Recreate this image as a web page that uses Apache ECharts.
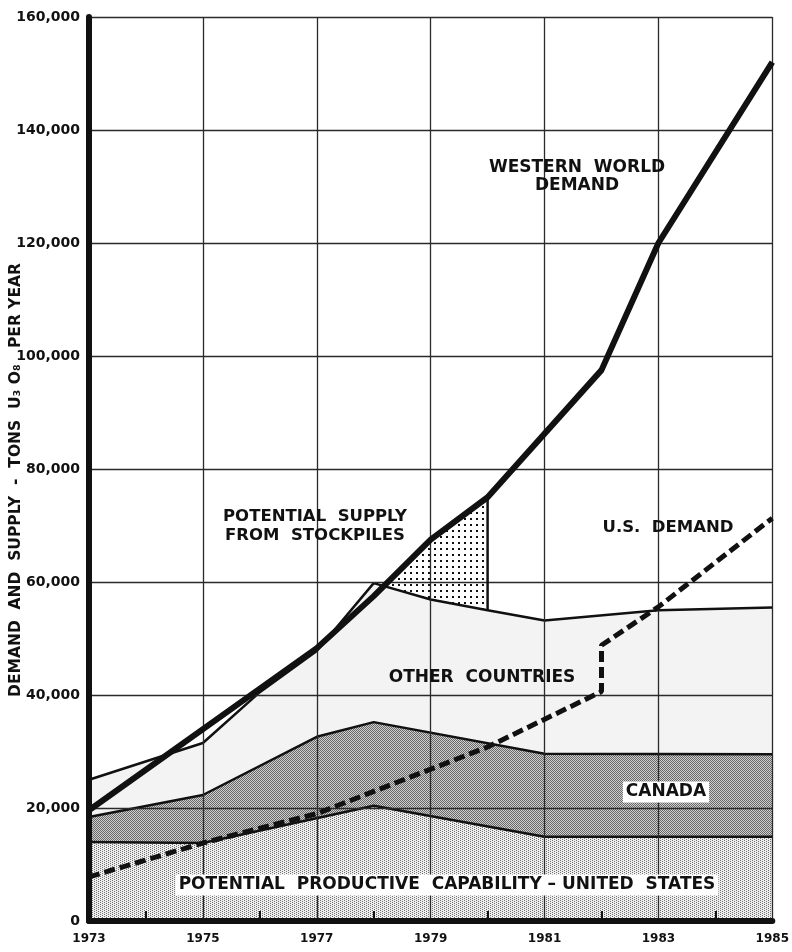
<!DOCTYPE html>
<html><head><meta charset="utf-8">
<script src="https://cdn.jsdelivr.net/npm/echarts@6/dist/echarts.min.js"></script>
<style>html,body{margin:0;padding:0;background:#fff}#c{width:792px;height:952px}</style>
</head><body><div id="c"></div>
<script>
// ---- data (years, tons U3O8 per year) ----
const BASE_YEAR = 1973;
const yTickValues = [0, 20000, 40000, 60000, 80000, 100000, 120000, 140000, 160000];
const usCapYears = [1973, 1975, 1978, 1981, 1985];
const usCapValues = [14000, 13800, 20400, 14900, 14900];
const canadaTopYears = [1973, 1975, 1977, 1978, 1981, 1985];
const canadaTopValues = [18400, 22300, 32600, 35200, 29600, 29500];
const otherTopYears = [1973, 1975, 1976, 1977, 1978, 1979, 1980, 1981, 1983, 1985];
const otherTopValues = [25000, 31500, 40500, 47800, 59800, 56900, 55000, 53200, 55000, 55500];
const worldDemandYears = [1973, 1977, 1978, 1979, 1980, 1982, 1983, 1985];
const worldDemandValues = [19600, 48300, 57500, 67500, 75000, 97500, 120000, 152000];
const usDemandYears = [1973, 1975, 1977, 1980, 1982, 1982, 1983, 1985];
const usDemandValues = [7800, 13800, 19000, 30800, 40600, 48800, 55600, 71300];
const stockpileYears = [1978, 1979, 1980];
const stockpileValues = [57500, 67500, 75000];
const stockpileEdgeYears = [1980, 1980];
const stockpileEdgeValues = [55000, 75000];

function pts(years, vals) { return years.map((y, i) => [y - BASE_YEAR, vals[i]]); }

function pattern(size, bg, dots, dotColor) {
  const c = document.createElement('canvas');
  c.width = size; c.height = size;
  const g = c.getContext('2d');
  g.fillStyle = bg; g.fillRect(0, 0, size, size);
  g.fillStyle = dotColor;
  dots.forEach(d => g.fillRect(d[0], d[1], d[2], d[3]));
  return { image: c, repeat: 'repeat' };
}
const usFill = pattern(4, '#eeeeee', [[0,0,1,1],[2,1,1,1],[0,2,1,1],[2,3,1,1]], '#707070');
const canFill = pattern(2, '#cfcfcf', [[0,0,1,1],[1,1,1,1]], '#686868');
const stockFill = pattern(6, '#ffffff', [[2,2,2,2]], '#111');

const FONT = 'DejaVu Sans';
const chart = echarts.init(document.getElementById('c'), null, { renderer: 'canvas' });
const gridStyle = { color: '#2a2a2a', width: 1.3 };

const option = {
  animation: false,
  backgroundColor: '#fff',
  grid: { left: 89, right: 19, top: 17, bottom: 31, containLabel: false },
  xAxis: {
    type: 'value', min: 0, max: 12, interval: 2, z: 5,
    axisLine: { show: true, onZero: false, lineStyle: { color: '#111', width: 6 } },
    axisTick: { show: false, inside: true },
    minorTick: { show: true, splitNumber: 2, length: 10, lineStyle: { color: '#111', width: 2 } },
    splitLine: { show: true, lineStyle: gridStyle },
    axisLabel: { formatter: v => String(BASE_YEAR + v), fontFamily: FONT, fontWeight: 'bold', fontSize: 12, color: '#111', margin: 12 }
  },
  yAxis: {
    type: 'value', min: yTickValues[0], max: yTickValues[yTickValues.length - 1], interval: 20000, z: 5,
    axisLine: { show: true, lineStyle: { color: '#111', width: 6 } },
    axisTick: { show: false },
    splitLine: { show: true, lineStyle: gridStyle },
    axisLabel: { formatter: v => v.toLocaleString('en-US'), fontFamily: FONT, fontWeight: 'bold', fontSize: 14, color: '#111', margin: 9 }
  },
  series: [
    { name: 'Stockpiles', type: 'line', z: 1, symbol: 'none', data: pts(stockpileYears, stockpileValues),
      lineStyle: { width: 0 }, areaStyle: { color: stockFill, opacity: 1, origin: 'start' } },
    { name: 'Other countries', type: 'line', z: 2, symbol: 'none', data: pts(otherTopYears, otherTopValues),
      lineStyle: { color: '#111', width: 2.5 }, areaStyle: { color: '#f3f3f3', opacity: 1, origin: 'start' } },
    { name: 'Canada', type: 'line', z: 3, symbol: 'none', data: pts(canadaTopYears, canadaTopValues),
      lineStyle: { color: '#111', width: 2.5 }, areaStyle: { color: canFill, opacity: 1, origin: 'start' } },
    { name: 'United States', type: 'line', z: 4, symbol: 'none', data: pts(usCapYears, usCapValues),
      lineStyle: { color: '#111', width: 2.5 }, areaStyle: { color: usFill, opacity: 1, origin: 'start' } },
    { name: 'Stockpile edge', type: 'line', z: 6, symbol: 'none', data: pts(stockpileEdgeYears, stockpileEdgeValues),
      lineStyle: { color: '#111', width: 2.5 } },
    { name: 'Western World Demand', type: 'line', z: 7, symbol: 'none', data: pts(worldDemandYears, worldDemandValues),
      lineStyle: { color: '#111', width: 6, join: 'round' } },
    { name: 'U.S. Demand', type: 'line', z: 8, symbol: 'none', data: pts(usDemandYears, usDemandValues),
      lineStyle: { color: '#111', width: 5, type: [11, 5] } }
  ],
  graphic: [
    { type: 'text', x: 16, y: 480, rotation: Math.PI / 2, z: 100,
      style: { text: 'DEMAND  AND  SUPPLY  -  TONS  U\u2083 O\u2088   PER YEAR', font: 'bold 15.5px ' + FONT, fill: '#111', align: 'center', verticalAlign: 'middle' } },
    { type: 'text', x: 577, y: 177, z: 100,
      style: { text: 'WESTERN  WORLD\nDEMAND', font: 'bold 17px ' + FONT, fill: '#111', align: 'center', verticalAlign: 'middle', lineHeight: 18 } },
    { type: 'text', x: 315, y: 526, z: 100,
      style: { text: 'POTENTIAL  SUPPLY\nFROM  STOCKPILES', font: 'bold 16.5px ' + FONT, fill: '#111', align: 'center', verticalAlign: 'middle', lineHeight: 19 } },
    { type: 'text', x: 668, y: 528, z: 100,
      style: { text: 'U.S.  DEMAND', font: 'bold 16.5px ' + FONT, fill: '#111', align: 'center', verticalAlign: 'middle' } },
    { type: 'text', x: 482, y: 678, z: 100,
      style: { text: 'OTHER  COUNTRIES', font: 'bold 17px ' + FONT, fill: '#111', align: 'center', verticalAlign: 'middle' } },
    { type: 'text', x: 666, y: 792, z: 100,
      style: { text: 'CANADA', font: 'bold 17px ' + FONT, fill: '#111', align: 'center', verticalAlign: 'middle', backgroundColor: '#fff', padding: [2, 3] } },
    { type: 'text', x: 447, y: 885, z: 100,
      style: { text: 'POTENTIAL  PRODUCTIVE  CAPABILITY \u2013 UNITED  STATES', font: 'bold 17px ' + FONT, fill: '#111', align: 'center', verticalAlign: 'middle', backgroundColor: '#fff', padding: [2, 3] } }
  ]
};
chart.setOption(option);
</script>
</body></html>
